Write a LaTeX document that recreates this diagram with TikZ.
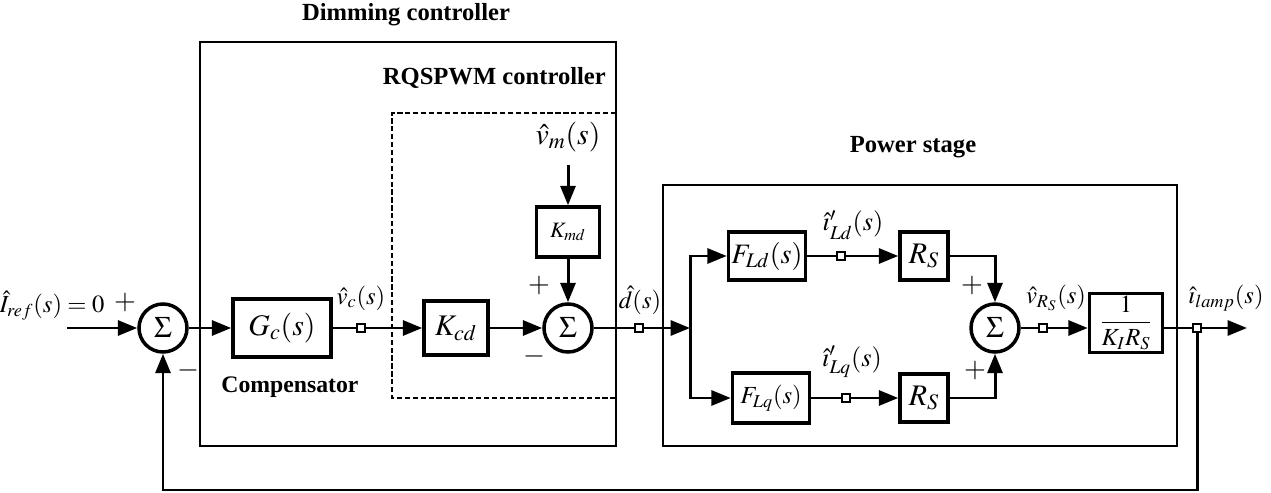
\documentclass[tikz,border=0pt]{standalone}
\usepackage{mathptmx}
\usepackage{fontspec}
\setmainfont{Liberation Serif}
\usetikzlibrary{arrows.meta,positioning}

\begin{document}
\begin{tikzpicture}[
  x=0.02cm, y=-0.02cm,
  block/.style={rectangle,draw,line width=2pt,fill=white,inner sep=0pt,font=\fontsize{17}{19}\selectfont},
  sumnode/.style={circle,draw,line width=2pt,minimum size=0.96cm,inner sep=0pt,font=\fontsize{17}{19}\selectfont},
  tap/.style={rectangle,draw,fill=white,line width=0.8pt,minimum size=0.16cm,inner sep=0pt},
  sig/.style={line width=1.7pt},
  arrow/.style={sig,-{Triangle[length=11pt,width=8.5pt]}},
  frame/.style={line width=0.9pt},
  title/.style={font=\bfseries\fontsize{14}{16}\selectfont},
  lbl/.style={font=\fontsize{14}{16}\selectfont,inner sep=1pt},
  sgn/.style={font=\fontsize{16}{18}\selectfont,inner sep=0pt}
]
\useasboundingbox (0,0) rectangle (1271,493);

% frames
\draw[frame] (200,42) rectangle (616,446);
\draw[frame,dash pattern=on 3pt off 1.5pt] (616,113) -- (392,113) -- (392,398) -- (616,398);
\draw[frame] (663,185) rectangle (1177,446);
\node[title] (tdim) at (406,15) {Dimming controller};
\node[title,anchor=east] (tpwm) at (612,78) {RQSPWM controller};
\node[title] (tpow) at (913,147) {Power stage};
\node[title,font=\bfseries\fontsize{13.5}{15}\selectfont] (tcomp) at (290,387) {Compensator};

% blocks
\coordinate (in) at (67,328);
\node[sumnode] (s1) at (163,328) {$\Sigma$};
\node[block,minimum width=1.96cm,minimum height=1.16cm] (gc) at (282,328) {$G_c(s)$};
\node[tap] (t1) at (361,328) {};
\node[block,minimum width=1.28cm,minimum height=1.08cm] (kcd) at (456,328) {$K_{cd}$};
\node[sumnode] (s2) at (568,328) {$\Sigma$};
\node[block,minimum width=1.26cm,minimum height=1cm,font=\fontsize{12.5}{14}\selectfont] (kmd) at (568,232) {$K_{md}$};
\coordinate (vm) at (568,165);
\node[tap] (t2) at (639,328) {};
\coordinate (br) at (690,328);
\node[block,minimum width=1.54cm,minimum height=0.96cm,font=\fontsize{16}{18}\selectfont] (fld) at (767,256) {$F_{Ld}(s)$};
\node[block,minimum width=1.54cm,minimum height=1cm,font=\fontsize{14}{16}\selectfont] (flq) at (771,398) {$F_{Lq}(s)$};
\node[tap] (t3) at (841,256) {};
\node[tap] (t4) at (846,398) {};
\node[block,minimum size=0.96cm] (rsd) at (924,256) {$R_S$};
\node[block,minimum size=0.96cm] (rsq) at (924,398) {$R_S$};
\node[sumnode] (s3) at (995,328) {$\Sigma$};
\node[tap] (t5) at (1043,328) {};
\node[block,minimum width=1.46cm,minimum height=1.18cm,font=\fontsize{14}{16}\selectfont] (ki) at (1126,323) {$\displaystyle\frac{1}{K_I R_S}$};
\node[tap] (t6) at (1197,328) {};
\coordinate (out) at (1247,328);

% labels
\node[lbl] (lref) at (52,306) {$\hat{I}_{ref}(s)=0$};
\node[sgn] (p1) at (125,302) {$+$};
\node[sgn] (m1) at (188,370) {$-$};
\node[lbl] (lvc) at (361,298) {$\hat{v}_c(s)$};
\node[lbl,font=\fontsize{17}{19}\selectfont] (lvm) at (568,137) {$\hat{v}_m(s)$};
\node[sgn] (p2) at (539,285) {$+$};
\node[sgn] (m2) at (534,356) {$-$};
\node[lbl] (ld) at (640,300) {$\hat{d}(s)$};
\node[lbl,font=\fontsize{15}{17}\selectfont] (lld) at (853,225) {$\hat{\imath}'_{Ld}(s)$};
\node[lbl,font=\fontsize{15}{17}\selectfont] (llq) at (852,362) {$\hat{\imath}'_{Lq}(s)$};
\node[sgn] (p3) at (972,285) {$+$};
\node[sgn] (p4) at (975,370) {$+$};
\node[lbl] (lvr) at (1056,298) {$\hat{v}_{R_S}(s)$};
\node[lbl] (lla) at (1226,298) {$\hat{\imath}_{lamp}(s)$};

% connectors
\draw[arrow] (in) -- (s1);
\draw[arrow] (s1) -- (gc);
\draw[sig] (gc) -- (t1);
\draw[arrow] (t1) -- (kcd);
\draw[arrow] (kcd) -- (s2);
\draw[arrow] (vm) -- (kmd);
\draw[arrow] (kmd) -- (s2);
\draw[sig] (s2) -- (t2);
\draw[arrow] (t2) -- (br);
\draw[arrow] (br) |- (fld);
\draw[arrow] (br) |- (flq);
\draw[sig] (fld) -- (t3);
\draw[arrow] (t3) -- (rsd);
\draw[sig] (flq) -- (t4);
\draw[arrow] (t4) -- (rsq);
\draw[arrow] (rsd) -| (s3);
\draw[arrow] (rsq) -| (s3);
\draw[sig] (s3) -- (t5);
\draw[arrow] (t5) -- (t5 -| ki.west);
\draw[sig] (ki.east |- t6) -- (t6);
\draw[arrow] (t6) -- (out);
\draw[arrow] (t6) -- ++(0,162) -| (s1);
\end{tikzpicture}
\end{document}
